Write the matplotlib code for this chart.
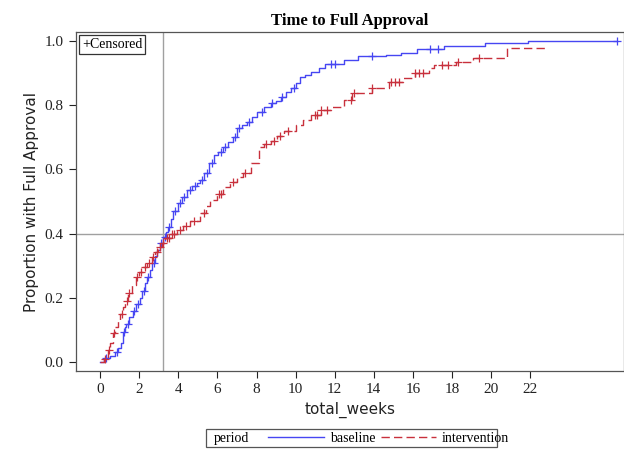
import numpy as np
import matplotlib
matplotlib.use("Agg")
import matplotlib.pyplot as plt
from matplotlib.lines import Line2D
from matplotlib.patches import Rectangle

# cumulative proportion approved, step times (weeks) and values
blue_t = [0, 0.22, 0.5, 0.74, 0.9, 1.08, 1.15, 1.25, 1.34, 1.5, 1.66, 1.85, 2.03, 2.15, 2.28,
          2.4, 2.54, 2.67, 2.8, 2.93, 3.06, 3.2, 3.35, 3.47, 3.6, 3.75, 3.98, 4.2, 4.43, 4.7,
          4.95, 5.12, 5.3, 5.55, 5.8, 6.05, 6.3, 6.55, 6.8, 7.0, 7.25, 7.5, 7.75, 8.04, 8.4,
          8.73, 9.0, 9.24, 9.5, 9.76, 10.0, 10.2, 10.5, 10.8, 11.2, 11.5, 12.5, 13.2, 14.6, 15.4,
          16.2, 17.6, 19.7, 21.9]
blue_p = [0, 0.012, 0.02, 0.03, 0.045, 0.06, 0.095, 0.108, 0.12, 0.14, 0.16, 0.18, 0.20, 0.222, 0.245,
          0.265, 0.287, 0.308, 0.33, 0.35, 0.37, 0.39, 0.405, 0.42, 0.445, 0.47, 0.495, 0.515, 0.535, 0.55,
          0.557, 0.567, 0.59, 0.62, 0.645, 0.655, 0.67, 0.685, 0.70, 0.73, 0.74, 0.748, 0.765, 0.78, 0.795,
          0.807, 0.815, 0.826, 0.84, 0.854, 0.87, 0.888, 0.895, 0.903, 0.915, 0.93, 0.94, 0.953, 0.956, 0.963,
          0.975, 0.984, 0.994, 1.0]
blue_end = 26.45
blue_cens = [0.3, 0.85, 1.2, 1.45, 1.75, 1.95, 2.25, 2.45, 2.75, 3.1, 3.3, 3.5, 3.85, 4.1, 4.3,
             4.6, 4.85, 5.2, 5.45, 5.7, 6.2, 6.4, 6.9, 7.1, 7.6, 8.3, 8.8, 9.3, 9.9, 11.8, 12.0,
             13.9, 16.9, 17.3, 26.45]

red_t = [0, 0.22, 0.39, 0.52, 0.64, 0.77, 0.9, 1.02, 1.15, 1.28, 1.41, 1.63, 1.86, 2.0, 2.19,
         2.4, 2.63, 2.8, 2.97, 3.15, 3.31, 3.6, 3.92, 4.25, 4.6, 5.12, 5.4, 5.63, 6.0, 6.3,
         6.65, 7.0, 7.3, 7.7, 8.12, 8.4, 8.73, 9.05, 9.4, 10.0, 10.4, 10.8, 11.3, 11.8, 12.5,
         12.9, 13.9, 14.8, 15.5, 16.1, 16.8, 17.1, 18.2, 19.1, 20.8]
red_p = [0, 0.01, 0.037, 0.06, 0.09, 0.11, 0.13, 0.15, 0.17, 0.19, 0.215, 0.24, 0.265, 0.28, 0.296,
         0.31, 0.327, 0.342, 0.358, 0.372, 0.386, 0.40, 0.41, 0.425, 0.44, 0.464, 0.485, 0.505, 0.525, 0.545,
         0.56, 0.576, 0.59, 0.62, 0.67, 0.68, 0.69, 0.705, 0.72, 0.738, 0.755, 0.77, 0.785, 0.795, 0.816,
         0.838, 0.854, 0.872, 0.885, 0.90, 0.915, 0.925, 0.935, 0.947, 0.98]
red_end = 22.9
red_cens = [0.25, 0.45, 0.7, 1.1, 1.35, 1.5, 1.9, 2.1, 2.3, 2.5, 2.7, 2.9, 3.05, 3.2, 3.4, 3.5,
            3.7, 3.8, 4.1, 4.4, 4.8, 5.3, 6.1, 6.2, 6.8, 7.4, 8.5, 8.9, 9.2, 9.6, 11.0, 11.1,
            11.3, 11.6, 12.85, 13.0, 13.9, 14.9, 15.1, 15.3, 16.1, 16.3, 16.5, 17.5, 17.8, 18.3, 19.4]

ref_x = 3.2
ref_y = 0.4

BLUE = "#4646f2"
RED = "#c8303c"
SERIF = "Liberation Serif"

fig = plt.figure(figsize=(6.24, 4.53), dpi=100)
ax = fig.add_axes([0.121, 0.181, 0.879, 0.748])

ax.axvline(ref_x, color="#a0a0a0", lw=1.0, zorder=0)
ax.axhline(ref_y, color="#a0a0a0", lw=1.0, zorder=0)

ax.step(blue_t + [blue_end], blue_p + [blue_p[-1]], where="post", color=BLUE, lw=1.0)
idx = np.searchsorted(blue_t, blue_cens, side="right") - 1
ax.plot(blue_cens, np.array(blue_p)[idx], ls="none", marker="+", ms=5.5, mew=0.9, color=BLUE)

ax.step(red_t + [red_end], red_p + [red_p[-1]], where="post", color=RED, lw=1.0, dashes=(6, 3))
idx = np.searchsorted(red_t, red_cens, side="right") - 1
ax.plot(red_cens, np.array(red_p)[idx], ls="none", marker="+", ms=5.5, mew=0.9, color=RED)

ax.set_xlim(-1.26, 26.8)
ax.set_ylim(-0.028, 1.028)
ax.set_xticks(range(0, 23, 2))
ax.set_yticks([0.0, 0.2, 0.4, 0.6, 0.8, 1.0])
ax.set_yticklabels(["0.0", "0.2", "0.4", "0.6", "0.8", "1.0"])
ax.tick_params(direction="out", length=5, width=0.8, labelsize=11, colors="#222222")
for lab in ax.get_xticklabels() + ax.get_yticklabels():
    lab.set_family(SERIF)
for s in ax.spines.values():
    s.set_color("#555555")
    s.set_linewidth(0.9)

ax.set_xlabel("total_weeks", fontsize=11, family="DejaVu Sans", color="#222222")
ax.set_ylabel("Proportion with Full Approval", fontsize=11, family="DejaVu Sans", color="#222222")
ax.set_title("Time to Full Approval", fontsize=12, family=SERIF, fontweight="bold", pad=5)

ax.text(0.012, 0.983, "+Censored", transform=ax.transAxes, ha="left", va="top",
        fontsize=10, family=SERIF,
        bbox=dict(boxstyle="square,pad=0.2", fc="white", ec="#333333", lw=0.9))

# legend at the bottom
fig.patches.append(Rectangle((0.330, 0.014), 0.466, 0.038, transform=fig.transFigure,
                             fill=False, ec="#555555", lw=0.9))
fig.text(0.342, 0.033, "period", fontsize=10, family=SERIF, va="center", ha="left")
handles = [Line2D([], [], color=BLUE, lw=1.0),
           Line2D([], [], color=RED, lw=1.0, dashes=(6, 3))]
fig.legend(handles, ["baseline", "intervention"], loc="center", bbox_to_anchor=(0.623, 0.033),
           ncol=2, frameon=False, prop={"family": SERIF, "size": 10}, handlelength=4,
           handletextpad=0.4, columnspacing=0.4, borderpad=0)

fig.savefig("out.png", dpi=100)
